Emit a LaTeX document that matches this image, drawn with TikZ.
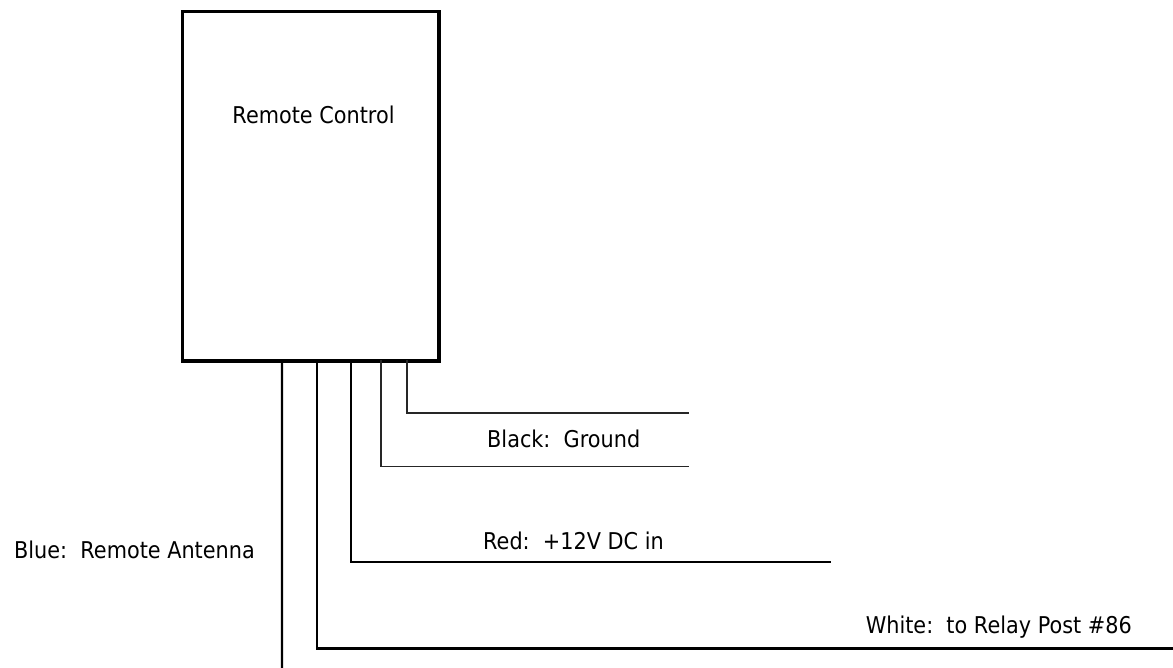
\documentclass[tikz,border=0pt]{standalone}
\usepackage{fontspec}
\setmainfont{DejaVu Sans}[FakeStretch=0.9]
\begin{document}
\begin{tikzpicture}[x=1bp,y=-1bp,
  rcbox/.style={draw,line width=3.5bp,minimum width=256.5bp,minimum height=349.5bp,inner sep=0pt,outer sep=0pt},
  wire/.style={line width=2.3bp,line cap=rect},
  lightwire/.style={line width=1.7bp,draw=black!85,line cap=rect},
  lbl/.style={font=\fontsize{23.2}{27}\selectfont,inner sep=0pt}]
\useasboundingbox (0,0) rectangle (1173,668);
\node[rcbox] (rc) at (310.75,186.25) {};
\node[lbl,anchor=base] (rctext) at (313.5,124) {Remote Control};
% wire end points
\coordinate (e1) at (282,668);
\coordinate (e2) at (1173,648.5);
\coordinate (e3) at (830,562);
\coordinate (e4) at (688,466.5);
\coordinate (e5) at (688,413);
\draw[wire] ([xshift=99.5bp]rc.south west) -- (e1);
\draw[wire] ([xshift=134.5bp]rc.south west) |- (e2);
\draw[wire] ([xshift=168.5bp]rc.south west) |- (e3);
\draw[lightwire] ([xshift=198.5bp]rc.south west) |- (e4);
\draw[lightwire] ([xshift=224.5bp]rc.south west) |- (e5);
% labels
\node[lbl,anchor=base west] (lblack) at (487,447.7) {Black:~~Ground};
\node[lbl,anchor=base west] (lred) at (483,549) {Red:~~+12V DC in};
\node[lbl,anchor=base east] (lblue) at (255,558) {Blue:~~Remote Antenna};
\node[lbl,anchor=base east] (lwhite) at (1132,633) {White:~~to Relay Post \#86};
\end{tikzpicture}
\end{document}
